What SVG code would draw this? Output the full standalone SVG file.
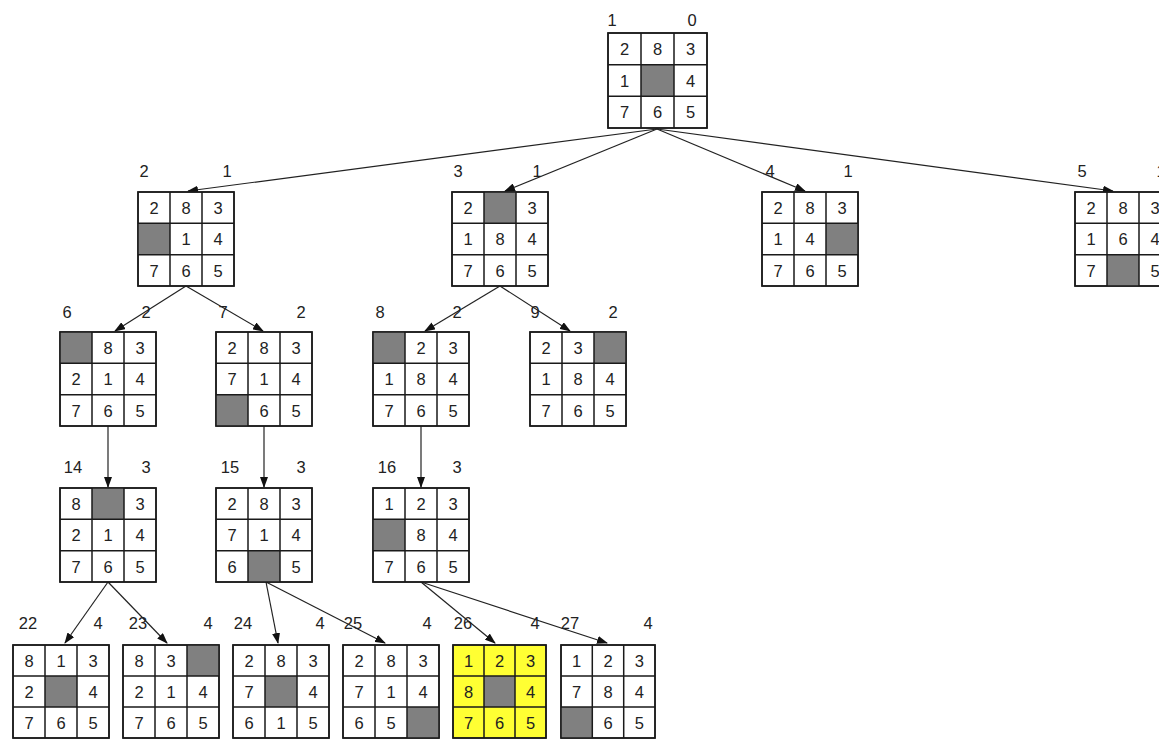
<svg xmlns="http://www.w3.org/2000/svg" width="1159" height="739" viewBox="0 0 1159 739">
<style>
.b{fill:#fff;stroke:#1a1a1a;stroke-width:1.5}
.y{fill:#ffff33}
.g{fill:#808080}
.l{stroke:#1a1a1a;stroke-width:1.5;fill:none}
.n{font-family:"Liberation Sans",Arial,sans-serif;font-size:16.5px;fill:#222;text-anchor:middle}
.e{stroke:#222;stroke-width:1.2;fill:none;marker-end:url(#ah)}
</style>
<defs>
<marker id="ah" markerWidth="11" markerHeight="8" refX="10" refY="4" orient="auto" markerUnits="userSpaceOnUse"><path d="M0,0 L11,4 L0,8 Z" fill="#111"/></marker>
</defs>
<g id="connectors">
<line class="e" x1="657" y1="129" x2="188" y2="191"/>
<line class="e" x1="657" y1="129" x2="505" y2="191"/>
<line class="e" x1="657" y1="129" x2="805" y2="191"/>
<line class="e" x1="657" y1="129" x2="1113" y2="191"/>
<line class="e" x1="186" y1="286" x2="115" y2="331"/>
<line class="e" x1="186" y1="286" x2="263" y2="331"/>
<line class="e" x1="500" y1="286" x2="425" y2="331"/>
<line class="e" x1="500" y1="286" x2="570" y2="331"/>
<line class="e" x1="108" y1="426" x2="108" y2="487"/>
<line class="e" x1="264" y1="426" x2="264" y2="487"/>
<line class="e" x1="421" y1="426" x2="421" y2="487"/>
<line class="e" x1="108" y1="582" x2="65" y2="643"/>
<line class="e" x1="108" y1="582" x2="167" y2="643"/>
<line class="e" x1="266" y1="582" x2="278" y2="643"/>
<line class="e" x1="266" y1="582" x2="385" y2="643"/>
<line class="e" x1="421" y1="582" x2="495" y2="643"/>
<line class="e" x1="421" y1="582" x2="607" y2="643"/>
</g>
<g id="n1" transform="translate(608,33)">
<rect class="b" width="99" height="95"/><rect class="g" x="33" y="31.7" width="33" height="31.7"/>
<path class="l" d="M33,0V95M66,0V95M0,31.7H99M0,63.3H99"/><rect class="l" width="99" height="95"/>
<text class="n" x="16.5" y="22">2</text><text class="n" x="49.5" y="22">8</text><text class="n" x="82.5" y="22">3</text>
<text class="n" x="16.5" y="54">1</text><text class="n" x="82.5" y="54">4</text>
<text class="n" x="16.5" y="85">7</text><text class="n" x="49.5" y="85">6</text><text class="n" x="82.5" y="85">5</text>
<text class="n" x="4" y="-7">1</text><text class="n" x="84" y="-7">0</text>
</g>
<g id="n2" transform="translate(138,192)">
<rect class="b" width="96" height="94"/><rect class="g" x="0" y="31.3" width="32" height="31.3"/>
<path class="l" d="M32,0V94M64,0V94M0,31.3H96M0,62.7H96"/><rect class="l" width="96" height="94"/>
<text class="n" x="16" y="22">2</text><text class="n" x="48" y="22">8</text><text class="n" x="80" y="22">3</text>
<text class="n" x="48" y="53">1</text><text class="n" x="80" y="53">4</text>
<text class="n" x="16" y="85">7</text><text class="n" x="48" y="85">6</text><text class="n" x="80" y="85">5</text>
<text class="n" x="6" y="-15">2</text><text class="n" x="89" y="-15">1</text>
</g>
<g id="n3" transform="translate(452,192)">
<rect class="b" width="96" height="94"/><rect class="g" x="32" y="0" width="32" height="31.3"/>
<path class="l" d="M32,0V94M64,0V94M0,31.3H96M0,62.7H96"/><rect class="l" width="96" height="94"/>
<text class="n" x="16" y="22">2</text><text class="n" x="80" y="22">3</text>
<text class="n" x="16" y="53">1</text><text class="n" x="48" y="53">8</text><text class="n" x="80" y="53">4</text>
<text class="n" x="16" y="85">7</text><text class="n" x="48" y="85">6</text><text class="n" x="80" y="85">5</text>
<text class="n" x="6" y="-15">3</text><text class="n" x="85" y="-15">1</text>
</g>
<g id="n4" transform="translate(762,192)">
<rect class="b" width="96" height="94"/><rect class="g" x="64" y="31.3" width="32" height="31.3"/>
<path class="l" d="M32,0V94M64,0V94M0,31.3H96M0,62.7H96"/><rect class="l" width="96" height="94"/>
<text class="n" x="16" y="22">2</text><text class="n" x="48" y="22">8</text><text class="n" x="80" y="22">3</text>
<text class="n" x="16" y="53">1</text><text class="n" x="48" y="53">4</text>
<text class="n" x="16" y="85">7</text><text class="n" x="48" y="85">6</text><text class="n" x="80" y="85">5</text>
<text class="n" x="8" y="-15">4</text><text class="n" x="86" y="-15">1</text>
</g>
<g id="n5" transform="translate(1075,192)">
<rect class="b" width="96" height="94"/><rect class="g" x="32" y="62.7" width="32" height="31.3"/>
<path class="l" d="M32,0V94M64,0V94M0,31.3H96M0,62.7H96"/><rect class="l" width="96" height="94"/>
<text class="n" x="16" y="22">2</text><text class="n" x="48" y="22">8</text><text class="n" x="80" y="22">3</text>
<text class="n" x="16" y="53">1</text><text class="n" x="48" y="53">6</text><text class="n" x="80" y="53">4</text>
<text class="n" x="16" y="85">7</text><text class="n" x="80" y="85">5</text>
<text class="n" x="7" y="-15">5</text><text class="n" x="86" y="-15">1</text>
</g>
<g id="n6" transform="translate(60,332)">
<rect class="b" width="96" height="94"/><rect class="g" x="0" y="0" width="32" height="31.3"/>
<path class="l" d="M32,0V94M64,0V94M0,31.3H96M0,62.7H96"/><rect class="l" width="96" height="94"/>
<text class="n" x="48" y="22">8</text><text class="n" x="80" y="22">3</text>
<text class="n" x="16" y="53">2</text><text class="n" x="48" y="53">1</text><text class="n" x="80" y="53">4</text>
<text class="n" x="16" y="85">7</text><text class="n" x="48" y="85">6</text><text class="n" x="80" y="85">5</text>
<text class="n" x="7" y="-14">6</text><text class="n" x="86" y="-14">2</text>
</g>
<g id="n7" transform="translate(216,332)">
<rect class="b" width="96" height="94"/><rect class="g" x="0" y="62.7" width="32" height="31.3"/>
<path class="l" d="M32,0V94M64,0V94M0,31.3H96M0,62.7H96"/><rect class="l" width="96" height="94"/>
<text class="n" x="16" y="22">2</text><text class="n" x="48" y="22">8</text><text class="n" x="80" y="22">3</text>
<text class="n" x="16" y="53">7</text><text class="n" x="48" y="53">1</text><text class="n" x="80" y="53">4</text>
<text class="n" x="48" y="85">6</text><text class="n" x="80" y="85">5</text>
<text class="n" x="7" y="-14">7</text><text class="n" x="85" y="-14">2</text>
</g>
<g id="n8" transform="translate(373,332)">
<rect class="b" width="96" height="94"/><rect class="g" x="0" y="0" width="32" height="31.3"/>
<path class="l" d="M32,0V94M64,0V94M0,31.3H96M0,62.7H96"/><rect class="l" width="96" height="94"/>
<text class="n" x="48" y="22">2</text><text class="n" x="80" y="22">3</text>
<text class="n" x="16" y="53">1</text><text class="n" x="48" y="53">8</text><text class="n" x="80" y="53">4</text>
<text class="n" x="16" y="85">7</text><text class="n" x="48" y="85">6</text><text class="n" x="80" y="85">5</text>
<text class="n" x="7" y="-14">8</text><text class="n" x="84" y="-14">2</text>
</g>
<g id="n9" transform="translate(530,332)">
<rect class="b" width="96" height="94"/><rect class="g" x="64" y="0" width="32" height="31.3"/>
<path class="l" d="M32,0V94M64,0V94M0,31.3H96M0,62.7H96"/><rect class="l" width="96" height="94"/>
<text class="n" x="16" y="22">2</text><text class="n" x="48" y="22">3</text>
<text class="n" x="16" y="53">1</text><text class="n" x="48" y="53">8</text><text class="n" x="80" y="53">4</text>
<text class="n" x="16" y="85">7</text><text class="n" x="48" y="85">6</text><text class="n" x="80" y="85">5</text>
<text class="n" x="5" y="-14">9</text><text class="n" x="83" y="-14">2</text>
</g>
<g id="n14" transform="translate(60,488)">
<rect class="b" width="96" height="94"/><rect class="g" x="32" y="0" width="32" height="31.3"/>
<path class="l" d="M32,0V94M64,0V94M0,31.3H96M0,62.7H96"/><rect class="l" width="96" height="94"/>
<text class="n" x="16" y="22">8</text><text class="n" x="80" y="22">3</text>
<text class="n" x="16" y="53">2</text><text class="n" x="48" y="53">1</text><text class="n" x="80" y="53">4</text>
<text class="n" x="16" y="85">7</text><text class="n" x="48" y="85">6</text><text class="n" x="80" y="85">5</text>
<text class="n" x="13" y="-15">14</text><text class="n" x="86" y="-15">3</text>
</g>
<g id="n15" transform="translate(216,488)">
<rect class="b" width="96" height="94"/><rect class="g" x="32" y="62.7" width="32" height="31.3"/>
<path class="l" d="M32,0V94M64,0V94M0,31.3H96M0,62.7H96"/><rect class="l" width="96" height="94"/>
<text class="n" x="16" y="22">2</text><text class="n" x="48" y="22">8</text><text class="n" x="80" y="22">3</text>
<text class="n" x="16" y="53">7</text><text class="n" x="48" y="53">1</text><text class="n" x="80" y="53">4</text>
<text class="n" x="16" y="85">6</text><text class="n" x="80" y="85">5</text>
<text class="n" x="14" y="-15">15</text><text class="n" x="85" y="-15">3</text>
</g>
<g id="n16" transform="translate(373,488)">
<rect class="b" width="96" height="94"/><rect class="g" x="0" y="31.3" width="32" height="31.3"/>
<path class="l" d="M32,0V94M64,0V94M0,31.3H96M0,62.7H96"/><rect class="l" width="96" height="94"/>
<text class="n" x="16" y="22">1</text><text class="n" x="48" y="22">2</text><text class="n" x="80" y="22">3</text>
<text class="n" x="48" y="53">8</text><text class="n" x="80" y="53">4</text>
<text class="n" x="16" y="85">7</text><text class="n" x="48" y="85">6</text><text class="n" x="80" y="85">5</text>
<text class="n" x="14" y="-15">16</text><text class="n" x="84" y="-15">3</text>
</g>
<g id="n22" transform="translate(13,645)">
<rect class="b" width="96" height="93"/><rect class="g" x="32" y="31" width="32" height="31"/>
<path class="l" d="M32,0V93M64,0V93M0,31H96M0,62H96"/><rect class="l" width="96" height="93"/>
<text class="n" x="16" y="22">8</text><text class="n" x="48" y="22">1</text><text class="n" x="80" y="22">3</text>
<text class="n" x="16" y="53">2</text><text class="n" x="80" y="53">4</text>
<text class="n" x="16" y="84">7</text><text class="n" x="48" y="84">6</text><text class="n" x="80" y="84">5</text>
<text class="n" x="15" y="-16">22</text><text class="n" x="85" y="-16">4</text>
</g>
<g id="n23" transform="translate(123,645)">
<rect class="b" width="96" height="93"/><rect class="g" x="64" y="0" width="32" height="31"/>
<path class="l" d="M32,0V93M64,0V93M0,31H96M0,62H96"/><rect class="l" width="96" height="93"/>
<text class="n" x="16" y="22">8</text><text class="n" x="48" y="22">3</text>
<text class="n" x="16" y="53">2</text><text class="n" x="48" y="53">1</text><text class="n" x="80" y="53">4</text>
<text class="n" x="16" y="84">7</text><text class="n" x="48" y="84">6</text><text class="n" x="80" y="84">5</text>
<text class="n" x="15" y="-16">23</text><text class="n" x="85" y="-16">4</text>
</g>
<g id="n24" transform="translate(233,645)">
<rect class="b" width="96" height="93"/><rect class="g" x="32" y="31" width="32" height="31"/>
<path class="l" d="M32,0V93M64,0V93M0,31H96M0,62H96"/><rect class="l" width="96" height="93"/>
<text class="n" x="16" y="22">2</text><text class="n" x="48" y="22">8</text><text class="n" x="80" y="22">3</text>
<text class="n" x="16" y="53">7</text><text class="n" x="80" y="53">4</text>
<text class="n" x="16" y="84">6</text><text class="n" x="48" y="84">1</text><text class="n" x="80" y="84">5</text>
<text class="n" x="10" y="-16">24</text><text class="n" x="87" y="-16">4</text>
</g>
<g id="n25" transform="translate(343,645)">
<rect class="b" width="96" height="93"/><rect class="g" x="64" y="62" width="32" height="31"/>
<path class="l" d="M32,0V93M64,0V93M0,31H96M0,62H96"/><rect class="l" width="96" height="93"/>
<text class="n" x="16" y="22">2</text><text class="n" x="48" y="22">8</text><text class="n" x="80" y="22">3</text>
<text class="n" x="16" y="53">7</text><text class="n" x="48" y="53">1</text><text class="n" x="80" y="53">4</text>
<text class="n" x="16" y="84">6</text><text class="n" x="48" y="84">5</text>
<text class="n" x="10" y="-16">25</text><text class="n" x="84" y="-16">4</text>
</g>
<g id="n26" transform="translate(453,645)">
<rect class="b y" width="93" height="93"/><rect class="g" x="31" y="31" width="31" height="31"/>
<path class="l" d="M31,0V93M62,0V93M0,31H93M0,62H93"/><rect class="l" width="93" height="93"/>
<text class="n" x="15.5" y="22">1</text><text class="n" x="46.5" y="22">2</text><text class="n" x="77.5" y="22">3</text>
<text class="n" x="15.5" y="53">8</text><text class="n" x="77.5" y="53">4</text>
<text class="n" x="15.5" y="84">7</text><text class="n" x="46.5" y="84">6</text><text class="n" x="77.5" y="84">5</text>
<text class="n" x="10" y="-16">26</text><text class="n" x="82" y="-16">4</text>
</g>
<g id="n27" transform="translate(561,645)">
<rect class="b" width="94" height="93"/><rect class="g" x="0" y="62" width="31.3" height="31"/>
<path class="l" d="M31.3,0V93M62.7,0V93M0,31H94M0,62H94"/><rect class="l" width="94" height="93"/>
<text class="n" x="15.7" y="22">1</text><text class="n" x="47" y="22">2</text><text class="n" x="78.3" y="22">3</text>
<text class="n" x="15.7" y="53">7</text><text class="n" x="47" y="53">8</text><text class="n" x="78.3" y="53">4</text>
<text class="n" x="47" y="84">6</text><text class="n" x="78.3" y="84">5</text>
<text class="n" x="9" y="-16">27</text><text class="n" x="87" y="-16">4</text>
</g>
</svg>
